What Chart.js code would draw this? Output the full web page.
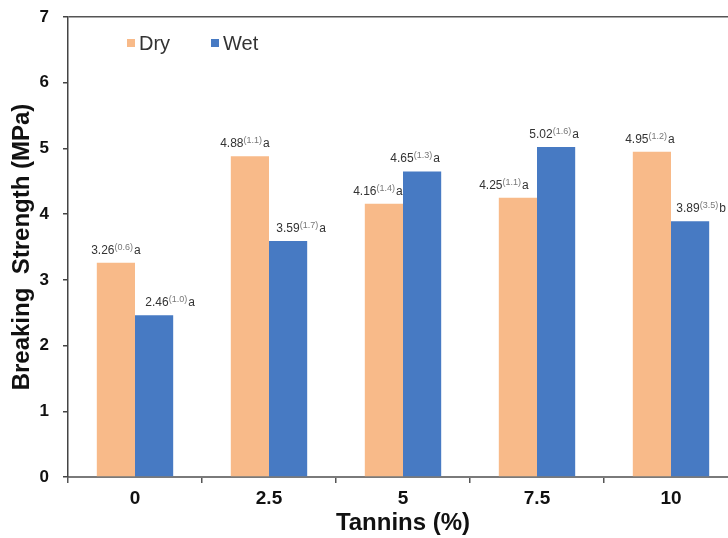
<!DOCTYPE html>
<html>
<head>
<meta charset="utf-8">
<script src="https://cdn.jsdelivr.net/npm/chart.js@4"></script>
<style>
  body { margin: 0; overflow: hidden; background: #fff; }
  #wrap { width: 740px; height: 538px; }
</style>
</head>
<body>
<div id="wrap"><canvas id="myChart"></canvas></div>
<script>
const categories = ["0", "2.5", "5", "7.5", "10"];
const dryValues = [3.26, 4.88, 4.16, 4.25, 4.95];
const wetValues = [2.46, 3.59, 4.65, 5.02, 3.89];
const drySup = ["(0.6)", "(1.1)", "(1.4)", "(1.1)", "(1.2)"];
const wetSup = ["(1.0)", "(1.7)", "(1.3)", "(1.6)", "(3.5)"];
const dryLetters = ["a", "a", "a", "a", "a"];
const wetLetters = ["a", "a", "a", "a", "b"];
const yMin = 0;
const yMax = 7;

const ctx = document.getElementById("myChart");
const sans = "'Liberation Sans', Arial, sans-serif";

// value labels like 3.26^(0.6)a above each bar
// labels were nudged by hand in the original, so keep small shifts per bar
const labelShift = [
  [0, -5, -6, -14, -2],
  [16, 13, -7, -2, 11],
];

const barLabels = {
  id: "barLabels",
  afterDatasetsDraw(chart) {
    const c = chart.ctx;
    chart.data.datasets.forEach((ds, i) => {
      const meta = chart.getDatasetMeta(i);
      meta.data.forEach((bar, j) => {
        const main = ds.data[j].toFixed(2);
        const sup = ds.sup[j];
        const letter = ds.letters[j];
        c.save();
        c.textBaseline = "alphabetic";
        c.font = "12px " + sans;
        const w1 = c.measureText(main).width;
        const w3 = c.measureText(letter).width;
        c.font = "9px " + sans;
        const w2 = c.measureText(sup).width;
        let x = bar.x + labelShift[i][j] - (w1 + w2 + w3 + 1) / 2;
        const y = bar.y - 9;
        c.fillStyle = "#333";
        c.font = "12px " + sans;
        c.fillText(main, x, y);
        x += w1;
        c.font = "9px " + sans;
        c.fillStyle = "#777";
        c.fillText(sup, x, y - 4);
        x += w2 + 1;
        c.font = "12px " + sans;
        c.fillStyle = "#333";
        c.fillText(letter, x, y);
        c.restore();
      });
    });
  },
};

// legend drawn inside the plot, top left
const innerLegend = {
  id: "innerLegend",
  afterDraw(chart) {
    const c = chart.ctx;
    const area = chart.chartArea;
    const starts = [area.left + 59, area.left + 143];
    chart.data.datasets.forEach((ds, i) => {
      const x = starts[i];
      const y = area.top + 26;
      c.save();
      c.fillStyle = ds.backgroundColor;
      c.fillRect(x, y - 4, 8, 8);
      c.fillStyle = "#333";
      c.font = "20px " + sans;
      c.textBaseline = "middle";
      c.fillText(ds.label, x + 12, y + 1);
      c.restore();
    });
  },
};

new Chart(ctx, {
  type: "bar",
  data: {
    labels: categories,
    datasets: [
      {
        label: "Dry",
        data: dryValues,
        sup: drySup,
        letters: dryLetters,
        backgroundColor: "#F8BA89",
        borderWidth: 0,
      },
      {
        label: "Wet",
        data: wetValues,
        sup: wetSup,
        letters: wetLetters,
        backgroundColor: "#477AC3",
        borderWidth: 0,
      },
    ],
  },
  options: {
    responsive: true,
    maintainAspectRatio: false,
    animation: false,
    categoryPercentage: 0.57,
    barPercentage: 1.0,
    layout: { padding: { top: 17, right: 2, left: 0, bottom: 0 } },
    plugins: {
      legend: { display: false },
      tooltip: { enabled: false },
    },
    scales: {
      x: {
        afterFit(scale) {
          scale.height = 61;
        },
        grid: {
          drawOnChartArea: false,
          offset: true,
          tickLength: 6,
          tickColor: "#555",
          lineWidth: 1.5,
        },
        border: { color: "#7a7a7a", width: 2 },
        ticks: {
          color: "#111",
          padding: 4,
          font: { family: sans, size: 19, weight: "bold" },
        },
        title: {
          display: true,
          text: "Tannins (%)",
          color: "#111",
          padding: { top: 0, bottom: 0 },
          font: { family: sans, size: 24, weight: "bold" },
        },
      },
      y: {
        min: yMin,
        max: yMax,
        afterFit(scale) {
          scale.width = 68;
          scale.paddingTop = 0;
        },
        grid: {
          drawOnChartArea: true,
          color: (c) => (c.tick && c.tick.value === yMax ? "#555" : "rgba(0,0,0,0)"),
          tickColor: "#444",
          tickLength: 5,
          lineWidth: 1.5,
        },
        border: { color: "#444", width: 1.5 },
        ticks: {
          stepSize: 1,
          color: "#111",
          padding: 14,
          font: { family: sans, size: 17, weight: "bold", lineHeight: 0.6 },
        },
        title: {
          display: true,
          text: "Breaking  Strength (MPa)",
          color: "#111",
          padding: { top: 8, bottom: 0 },
          font: { family: sans, size: 24, weight: "bold" },
        },
      },
    },
  },
  plugins: [barLabels, innerLegend],
});
</script>
</body>
</html>
